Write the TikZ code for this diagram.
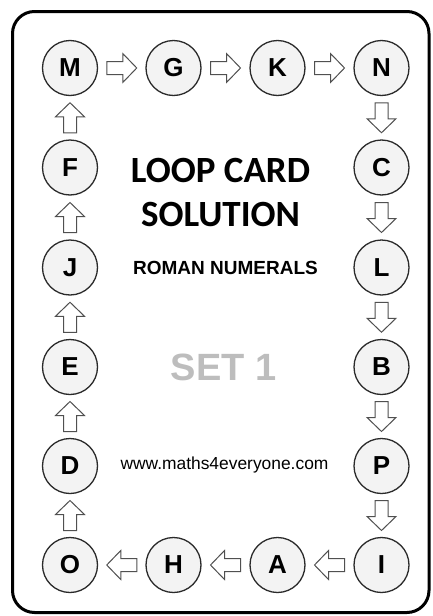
\documentclass[tikz,border=0pt]{standalone}
\usepackage{fontspec}
\usetikzlibrary{calc}
\newfontfamily\arialf{Liberation Sans}
\newfontfamily\calibrif{Carlito}
\definecolor{circfill}{HTML}{F3F3F3}
\definecolor{circline}{HTML}{2A2A2A}
\definecolor{arrline}{HTML}{505050}
\definecolor{setgray}{HTML}{BDBDBD}
\tikzset{
  letter/.style={circle, draw=circline, fill=circfill, line width=1.3pt, minimum size=55pt, inner sep=0pt,
    font=\arialf\bfseries\fontsize{26}{26}\selectfont},
  arrowline/.style={draw=arrline, fill=white, line width=1pt, line join=miter},
  barrow/.pic={\path[arrowline] (-15,-6.5) -- (1,-6.5) -- (1,-14.5) -- (15,0) -- (1,14.5) -- (1,6.5) -- (-15,6.5) -- cycle;}
}
\begin{document}
\begin{tikzpicture}[x=1pt,y=-1pt]
\useasboundingbox (0,0) rectangle (433,616);
\draw[line width=3pt, rounded corners=22pt] (12.5,11.5) rectangle (429,612.5);
% top row
\node[letter] (M) at (70,68) {M};
\node[letter] (G) at (173.5,68) {G};
\node[letter] (K) at (277.5,68) {K};
\node[letter] (N) at (381.5,68) {N};
% right column
\node[letter] (C) at (381.5,167.5) {C};
\node[letter] (L) at (381.5,267.5) {L};
\node[letter] (B) at (381.5,367) {B};
\node[letter] (P) at (381.5,466) {P};
\node[letter] (I) at (381.5,565) {I};
% bottom row
\node[letter] (A) at (277.5,565) {A};
\node[letter] (H) at (173.5,565) {H};
\node[letter] (O) at (70,565) {O};
% left column
\node[letter] (D) at (70,466) {D};
\node[letter] (E) at (70,367) {E};
\node[letter] (J) at (70,267.5) {J};
\node[letter] (F) at (70,167.5) {F};
% arrows
\pic at ($(M)!0.5!(G)$) {barrow};
\pic at ($(G)!0.5!(K)$) {barrow};
\pic at ($(K)!0.5!(N)$) {barrow};
\pic[rotate=-90] at ($(N)!0.5!(C)$) {barrow};
\pic[rotate=-90] at ($(C)!0.5!(L)$) {barrow};
\pic[rotate=-90] at ($(L)!0.5!(B)$) {barrow};
\pic[rotate=-90] at ($(B)!0.5!(P)$) {barrow};
\pic[rotate=-90] at ($(P)!0.5!(I)$) {barrow};
\pic[rotate=180] at ($(I)!0.5!(A)$) {barrow};
\pic[rotate=180] at ($(A)!0.5!(H)$) {barrow};
\pic[rotate=180] at ($(H)!0.5!(O)$) {barrow};
\pic[rotate=90] at ($(O)!0.5!(D)$) {barrow};
\pic[rotate=90] at ($(D)!0.5!(E)$) {barrow};
\pic[rotate=90] at ($(E)!0.5!(J)$) {barrow};
\pic[rotate=90] at ($(J)!0.5!(F)$) {barrow};
\pic[rotate=90] at ($(F)!0.5!(M)$) {barrow};
% texts
\node[align=center, inner sep=0pt, font=\calibrif\bfseries\fontsize{37}{44}\selectfont] (title) at (220.5,193) {LOOP CARD\\SOLUTION};
\node[inner sep=0pt, font=\arialf\bfseries\fontsize{19}{19}\selectfont] (sub) at (225.5,268) {ROMAN NUMERALS};
\node[inner sep=0pt, text=setgray, font=\arialf\bfseries\fontsize{38}{38}\selectfont] (set) at (223.5,367) {SET 1};
\node[inner sep=0pt, font=\arialf\fontsize{17.4}{17.4}\selectfont] (web) at (224.5,465) {www.maths4everyone.com};
\end{tikzpicture}
\end{document}
